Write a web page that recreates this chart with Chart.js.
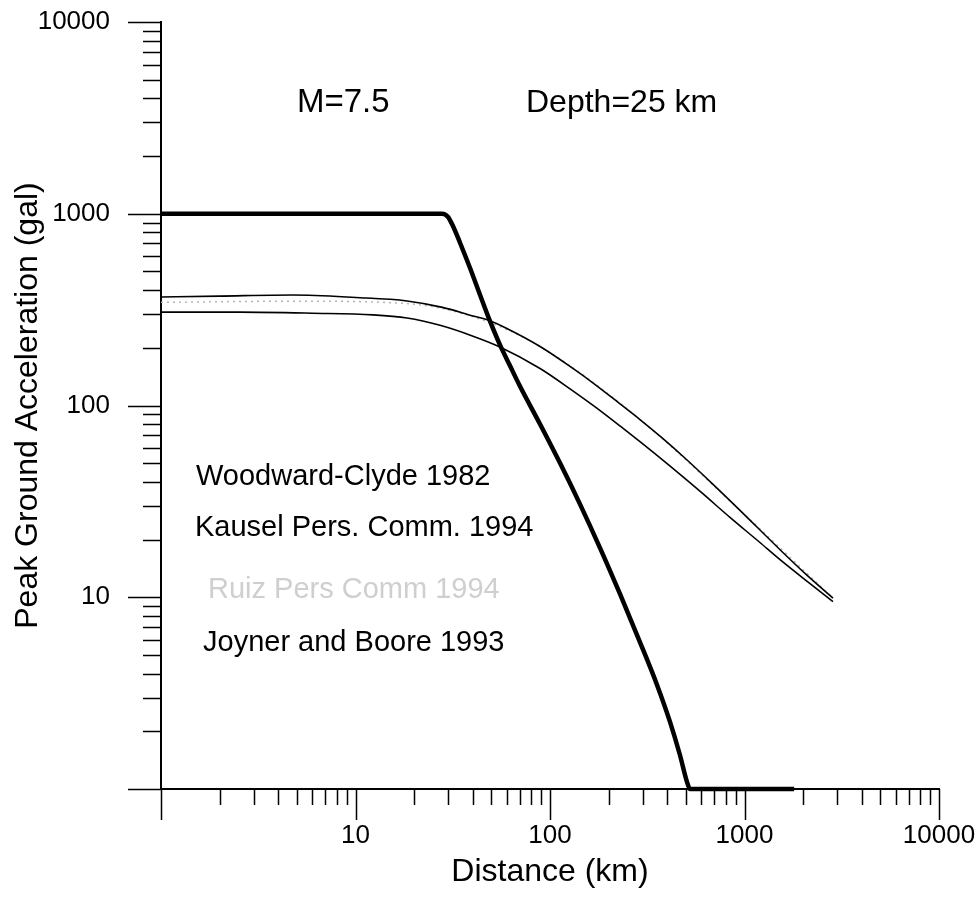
<!DOCTYPE html>
<html>
<head>
<meta charset="utf-8">
<script src="https://cdn.jsdelivr.net/npm/chart.js@4.4.0/dist/chart.umd.min.js"></script>
<style>
  html, body { margin: 0; padding: 0; background: #fff; }
</style>
</head>
<body>
<canvas id="pgaChart" width="976" height="904"></canvas>
<script>
// axis ranges and labelled ticks
const xRange = [1, 10000];
const yRange = [1, 10000];
const xTickLabels = [10, 100, 1000, 10000];
const yTickLabels = [10, 100, 1000, 10000];

// heavy curve
const joynerDist = [1, 27.85, 29.9, 31.7, 34.5, 38.8, 43.7, 49.1, 55.3, 62.3, 70.1, 88.8, 112.6, 142.6, 180.7, 229, 290, 355, 414, 466, 506, 525, 1800];
const joynerPga  = [1000, 1000, 962, 863, 704, 521, 377, 276, 207, 161, 126, 80.1, 50.1, 30.6, 18.1, 10.4, 5.84, 3.49, 2.24, 1.50, 1.09, 1, 1];

// upper thin curve
const woodwardDist = [1, 2, 4.77, 10, 18.4, 28, 40.2, 48, 60, 88.9, 130, 170, 229, 290, 377, 500, 689, 948, 1523, 2100, 2850];
const woodwardPga  = [368, 372, 377, 366, 351, 325, 293, 279, 252, 203, 157, 129, 102, 84.5, 67.8, 52.6, 38.8, 28.4, 17.7, 13.0, 9.9];

// lower thin curve
const kauselDist = [1, 2.55, 6, 12.3, 18.4, 27.2, 40.2, 55.3, 88.9, 130, 170, 229, 300, 400, 600, 842, 1200, 1523, 2100, 2850];
const kauselPga  = [307, 307, 303, 297, 286, 262, 230, 202, 156, 120, 98.6, 78.2, 63, 49.7, 35.2, 26.1, 19.3, 15.7, 12.1, 9.5];

// faded grey curve
const fadedDist = [1, 5, 18.4, 40.2, 88.9, 290, 948, 2850];
const fadedPga  = [345, 350, 340, 290, 203, 84.5, 28.4, 9.9];

const seriesLabels = ['Woodward-Clyde 1982', 'Kausel Pers. Comm. 1994', 'Ruiz Pers Comm 1994', 'Joyner and Boore 1993'];

const FONT = '"Liberation Sans", Arial, Helvetica, sans-serif';

function toPoints(xs, ys) {
    return xs.map((x, i) => ({ x: x, y: ys[i] }));
}

// 1..9 x 10^k tick values across the range
function logTicks(min, max) {
    const vals = [];
    for (let d = min; d < max; d *= 10) {
        for (let m = 1; m < 10; m++) vals.push(m * d);
    }
    vals.push(max);
    return vals;
}

function isDecade(v) {
    const l = Math.log10(v);
    return Math.abs(l - Math.round(l)) < 1e-9;
}

// tick marks: long on decades, short in between
const tickMarks = {
    id: 'tickMarks',
    afterDraw(chart) {
        const { ctx, scales: { x, y } } = chart;
        ctx.save();
        ctx.strokeStyle = '#000';
        ctx.lineWidth = 1.5;
        ctx.beginPath();
        x.ticks.forEach(t => {
            const px = Math.round(x.getPixelForValue(t.value)) + 0.5;
            const len = isDecade(t.value) ? 31 : 16;
            ctx.moveTo(px, x.top);
            ctx.lineTo(px, x.top + len);
        });
        y.ticks.forEach(t => {
            const py = Math.round(y.getPixelForValue(t.value)) + 0.5;
            const len = isDecade(t.value) ? 33 : 18;
            ctx.moveTo(y.right, py);
            ctx.lineTo(y.right - len, py);
        });
        ctx.stroke();
        ctx.restore();
    }
};

// free text inside the plot
const notes = {
    id: 'notes',
    afterDraw(chart) {
        const ctx = chart.ctx;
        ctx.save();
        ctx.textAlign = 'left';
        ctx.textBaseline = 'alphabetic';
        ctx.fillStyle = '#000';
        ctx.font = '33px ' + FONT;
        ctx.fillText('M=7.5', 297, 112);
        ctx.font = '32px ' + FONT;
        ctx.fillText('Depth=25 km', 526, 112);

        ctx.font = '29px ' + FONT;
        ctx.fillText(seriesLabels[0], 196, 485);
        ctx.fillText(seriesLabels[1], 195, 536);
        ctx.fillStyle = '#cfcfcf';
        ctx.fillText(seriesLabels[2], 208, 598);
        ctx.fillStyle = '#000';
        ctx.fillText(seriesLabels[3], 203, 651);
        ctx.restore();
    }
};

// invisible library ticks only push the labels away from the axis
function hiddenGrid(len) {
    return {
        display: true,
        drawOnChartArea: false,
        drawTicks: true,
        tickLength: len,
        tickColor: 'rgba(0,0,0,0)'
    };
}

function curve(label, xs, ys, color, width, dash) {
    return {
        label: label,
        data: toPoints(xs, ys),
        borderColor: color,
        borderWidth: width,
        borderDash: dash || [],
        pointRadius: 0,
        cubicInterpolationMode: 'monotone',
        clip: false
    };
}

const ctx = document.getElementById('pgaChart').getContext('2d');
const pgaChart = new Chart(ctx, {
    type: 'line',
    data: {
        datasets: [
            curve(seriesLabels[3], joynerDist, joynerPga, '#000', 4.5),
            curve(seriesLabels[0], woodwardDist, woodwardPga, '#000', 1.6),
            curve(seriesLabels[1], kauselDist, kauselPga, '#000', 1.6),
            curve(seriesLabels[2], fadedDist, fadedPga, '#b5b5b5', 1.5, [2, 4])
        ]
    },
    options: {
        responsive: false,
        animation: false,
        events: [],
        layout: {
            padding: { left: 0, right: 37, top: 22, bottom: 0 }
        },
        plugins: {
            legend: { display: false },
            tooltip: { enabled: false }
        },
        scales: {
            x: {
                type: 'logarithmic',
                position: 'bottom',
                min: xRange[0],
                max: xRange[1],
                afterBuildTicks: scale => {
                    scale.ticks = logTicks(xRange[0], xRange[1]).map(v => ({ value: v }));
                },
                afterFit: scale => { scale.height = 115; },
                grid: hiddenGrid(31),
                border: { display: true, color: '#000', width: 2 },
                ticks: {
                    autoSkip: false,
                    maxRotation: 0,
                    padding: 0,
                    color: '#000',
                    font: { family: FONT, size: 26 },
                    callback: v => xTickLabels.includes(v) ? String(v) : ''
                },
                title: {
                    display: true,
                    text: 'Distance (km)',
                    color: '#000',
                    font: { family: FONT, size: 32 },
                    padding: { top: 0, bottom: 13 }
                }
            },
            y: {
                type: 'logarithmic',
                position: 'left',
                min: yRange[0],
                max: yRange[1],
                afterBuildTicks: scale => {
                    scale.ticks = logTicks(yRange[0], yRange[1]).map(v => ({ value: v }));
                },
                afterFit: scale => { scale.width = 161; },
                grid: hiddenGrid(51),
                border: { display: true, color: '#000', width: 2 },
                ticks: {
                    autoSkip: false,
                    padding: 0,
                    color: '#000',
                    font: { family: FONT, size: 26 },
                    callback: v => yTickLabels.includes(v) ? String(v) : ''
                },
                title: {
                    display: true,
                    text: 'Peak Ground Acceleration (gal)',
                    color: '#000',
                    font: { family: FONT, size: 32 },
                    padding: { top: 9, bottom: 0 }
                }
            }
        }
    },
    plugins: [tickMarks, notes]
});
</script>
</body>
</html>
